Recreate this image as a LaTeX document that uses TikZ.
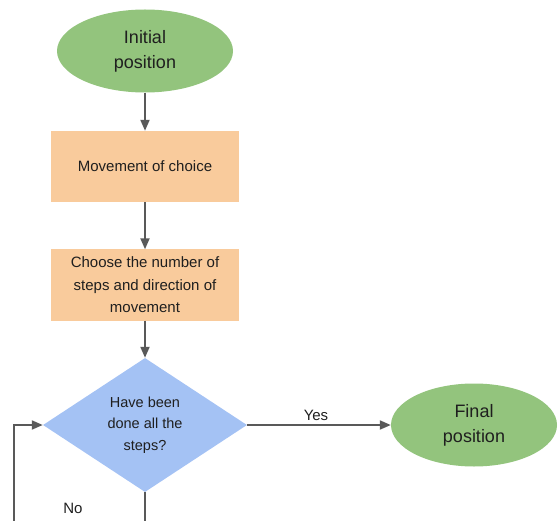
\documentclass[tikz,border=0pt]{standalone}
\usepackage{fontspec}
\setmainfont{Liberation Sans}
\usetikzlibrary{shapes.geometric,arrows.meta}
\definecolor{termgreen}{HTML}{93C47D}
\definecolor{procorange}{HTML}{F9CB9C}
\definecolor{decblue}{HTML}{A4C2F4}
\definecolor{linegray}{HTML}{595959}
\definecolor{textdark}{HTML}{1F1F1F}
\tikzstyle{terminal}=[ellipse, fill=termgreen, minimum width=176pt, minimum height=83pt, inner sep=0pt, align=center, text=textdark, font=\fontsize{18}{25}\selectfont]
\tikzstyle{process}=[rectangle, fill=procorange, minimum width=188pt, minimum height=71pt, inner sep=0pt, align=center, text=textdark, font=\fontsize{15}{22.5}\selectfont]
\tikzstyle{decision}=[diamond, fill=decblue, minimum width=204pt, minimum height=134pt, aspect=1.52, inner sep=0pt, align=center, text=textdark, font=\fontsize{14.5}{21.7}\selectfont]
\tikzstyle{flow}=[draw=linegray, line width=2pt, -{Triangle[length=11pt,width=9pt]}]
\tikzstyle{flowlabel}=[text=textdark, font=\fontsize{15}{18}\selectfont]

\begin{document}
\begin{tikzpicture}[x=1pt, y=-1pt]
                \useasboundingbox (0,0) rectangle (559,521);
                \clip (0,0) rectangle (559,521);
                \node[terminal] (init) at (145, 51) {Initial\\position};
                \node[process] (move) at (145, 166.5) {Movement of choice};
                \node[process] (steps) at (145, 285) {Choose the number of\\steps and direction of\\movement};
                \node[decision] (done) at (145, 425) {Have been\\done all the\\steps?};
                \node[terminal, minimum width=166pt] (final) at (474, 425) {Final\\position};
                \node[flowlabel] (yes) at (316, 415) {Yes};
                \node[flowlabel] (no) at (73, 508) {No};
                \coordinate (loop) at (14, 540);
                \draw[flow] (init)--(move);
                \draw[flow] (move)--(steps);
                \draw[flow] (steps)--(done);
                \draw[flow] (done)--(final);
                \draw[flow] (done.south) |- (loop) |- (done.west);
            \end{tikzpicture}
\end{document}
